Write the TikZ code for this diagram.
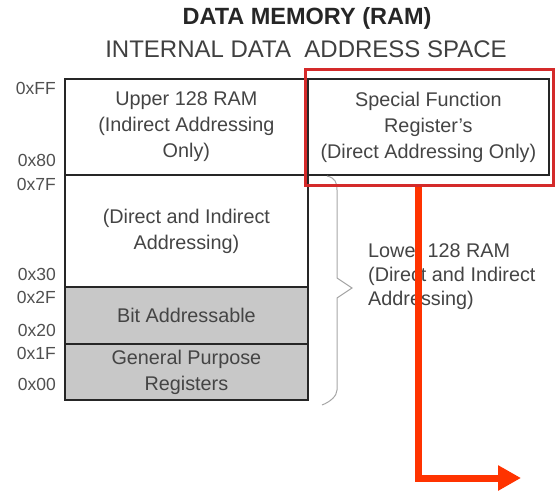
\documentclass[tikz,border=0pt]{standalone}
\usepackage{fontspec}
\setmainfont{Liberation Sans}
\usetikzlibrary{arrows.meta}
\definecolor{txt}{HTML}{444444}
\definecolor{lbl}{HTML}{505050}
\definecolor{cell}{HTML}{C8C8C8}
\definecolor{frame}{HTML}{D42A2A}
\definecolor{arrowred}{HTML}{FF3300}
\tikzset{
  x=1pt, y=-1pt,
  memcell/.style={draw=black!85, line width=1.8pt, minimum width=243pt, inner sep=0pt, align=center, text=txt, font=\fontsize{19.8}{26}\selectfont},
  addr/.style={anchor=east, text=lbl, font=\fontsize{17.5}{20}\selectfont, inner sep=0pt},
  hilite/.style={draw=frame, line width=3pt},
  flow/.style={draw=arrowred, line width=7pt, -{Triangle[length=23pt,width=24pt]}},
  brace/.style={draw=gray!70, line width=1pt}
}
\begin{document}
\begin{tikzpicture}
\useasboundingbox (0,0) rectangle (555,491);
\node[font=\bfseries\fontsize{23.5}{26}\selectfont, text=black!85] (title) at (307,18) {DATA MEMORY (RAM)};
\node[font=\fontsize{24}{26}\selectfont, text=black!75] (subtitle) at (306,49) {INTERNAL DATA\ \ ADDRESS SPACE};

\node[memcell, minimum height=96pt, anchor=north west] (upper) at (64,78) {Upper 128 RAM\\(Indirect Addressing\\Only)};
\node[memcell, minimum height=96pt, minimum width=241pt, anchor=north west] (sfr) at (307,78) {Special Function\\Register's\\(Direct Addressing Only)};
\node[memcell, minimum height=112pt, anchor=north west] (direct) at (64,174) {(Direct and Indirect\\Addressing)};
\node[memcell, fill=cell, minimum height=57pt, anchor=north west] (bit) at (64,286) {Bit Addressable};
\node[memcell, fill=cell, minimum height=56pt, anchor=north west] (gpr) at (64,343) {General Purpose\\Registers};

\node[addr] (aFF) at (56,88) {0xFF};
\node[addr] (a80) at (56,160) {0x80};
\node[addr] (a7F) at (56,184) {0x7F};
\node[addr] (a30) at (56,274) {0x30};
\node[addr] (a2F) at (56,297) {0x2F};
\node[addr] (a20) at (56,330) {0x20};
\node[addr] (a1F) at (56,353) {0x1F};
\node[addr] (a00) at (56,384) {0x00};

\draw[brace] (327,176) .. controls (335,178) and (337,182) .. (337,190) -- (337,278) -- (352,288) -- (337,298) -- (337,390) .. controls (337,396) and (330,402) .. (322,405);
\node[anchor=west, align=left, text=txt, font=\fontsize{19.8}{24}\selectfont, inner sep=0pt] (lower) at (368,277) {Lower 128 RAM\\(Direct and Indirect\\Addressing)};

\node[hilite, minimum width=248pt, minimum height=116pt, anchor=north west, inner sep=0pt] (redbox) at (304,68) {};
\coordinate (bend) at (418,478);
\coordinate (tipend) at (521,478);
\draw[flow] (bend |- redbox.south) -- (bend) -- (tipend);
\end{tikzpicture}
\end{document}
